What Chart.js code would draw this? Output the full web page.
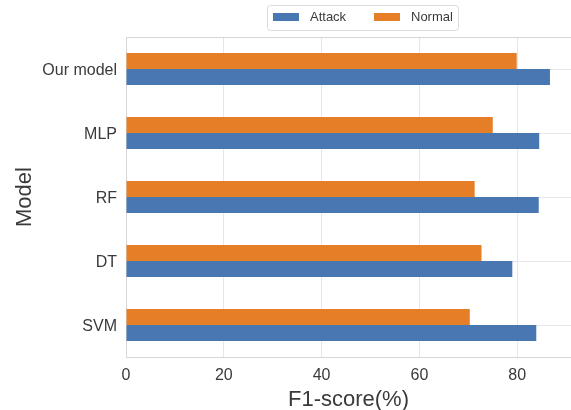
<!DOCTYPE html>
<html>
<head>
<meta charset="utf-8">
<script src="https://cdn.jsdelivr.net/npm/chart.js@4"></script>
<style>
  html, body { margin: 0; padding: 0; background: #fff; }
  #wrap { width: 571px; height: 410px; }
</style>
</head>
<body>
<div id="wrap"><canvas id="chart"></canvas></div>
<script>
// data
const models = ['SVM', 'DT', 'RF', 'MLP', 'Our model'];
const attack = [83.9, 79.0, 84.4, 84.5, 86.7];
const normal = [70.3, 72.7, 71.3, 75.0, 79.9];
const xTicks = [0, 20, 40, 60, 80];

const blue = '#4877b2';
const orange = '#e57e26';
const textColor = '#3a3a3a';
const font = 'Liberation Sans, Arial, sans-serif';

// matplotlib-style legend box plus top spine
const frameAndLegend = {
  id: 'frameAndLegend',
  afterDraw(chart) {
    const ctx = chart.ctx;
    const area = chart.chartArea;
    ctx.save();
    ctx.strokeStyle = '#d6d6d6';
    ctx.lineWidth = 1;
    ctx.beginPath();
    ctx.moveTo(area.left, area.top + 0.5);
    ctx.lineTo(area.right, area.top + 0.5);
    ctx.stroke();

    // legend box
    const bx = 267, by = 5, bw = 191, bh = 25, r = 3;
    ctx.strokeStyle = '#dcdcdc';
    ctx.fillStyle = '#ffffff';
    ctx.beginPath();
    ctx.roundRect(bx + 0.5, by + 0.5, bw, bh, r);
    ctx.fill();
    ctx.stroke();

    const items = [
      { label: 'Attack', color: blue, x: 273 },
      { label: 'Normal', color: orange, x: 374 }
    ];
    ctx.font = '13px ' + font;
    ctx.textBaseline = 'middle';
    ctx.textAlign = 'left';
    items.forEach(function (it) {
      ctx.fillStyle = it.color;
      ctx.fillRect(it.x, 13, 26, 8);
      ctx.fillStyle = textColor;
      ctx.fillText(it.label, it.x + 37, 17);
    });
    ctx.restore();
  }
};

new Chart(document.getElementById('chart'), {
  type: 'bar',
  data: {
    labels: models,
    // normal first so it sits above attack inside each group
    datasets: [
      { label: 'Normal', data: normal, backgroundColor: orange },
      { label: 'Attack', data: attack, backgroundColor: blue }
    ]
  },
  options: {
    indexAxis: 'y',
    responsive: true,
    maintainAspectRatio: false,
    animation: false,
    layout: { padding: { top: 37, right: 0, left: 0, bottom: 0 } },
    datasets: {
      bar: { categoryPercentage: 0.5, barPercentage: 1.0 }
    },
    plugins: {
      legend: { display: false },
      tooltip: { enabled: false }
    },
    scales: {
      x: {
        min: 0,
        max: 91,
        afterBuildTicks(scale) {
          scale.ticks = xTicks.map(v => ({ value: v }));
        },
        afterFit(scale) { scale.height = 53; },
        grid: { color: '#e6e6e6', drawTicks: false },
        border: { color: '#d6d6d6' },
        ticks: { color: textColor, font: { size: 16, family: font }, padding: 9 },
        title: {
          display: true,
          text: 'F1-score(%)',
          color: textColor,
          font: { size: 22, family: font, lineHeight: 1.0 },
          padding: { top: 0, bottom: -1 }
        }
      },
      y: {
        reverse: true,
        afterFit(scale) { scale.width = 126; },
        grid: { color: '#e6e6e6', drawTicks: false, offset: false },
        border: { color: '#d6d6d6' },
        ticks: { color: textColor, font: { size: 16, family: font }, padding: 9, labelOffset: 2 },
        title: {
          display: true,
          text: 'Model',
          color: textColor,
          font: { size: 22, family: font, lineHeight: 1.0 },
          padding: { top: 14, bottom: 0 }
        }
      }
    }
  },
  plugins: [frameAndLegend]
});
</script>
</body>
</html>
